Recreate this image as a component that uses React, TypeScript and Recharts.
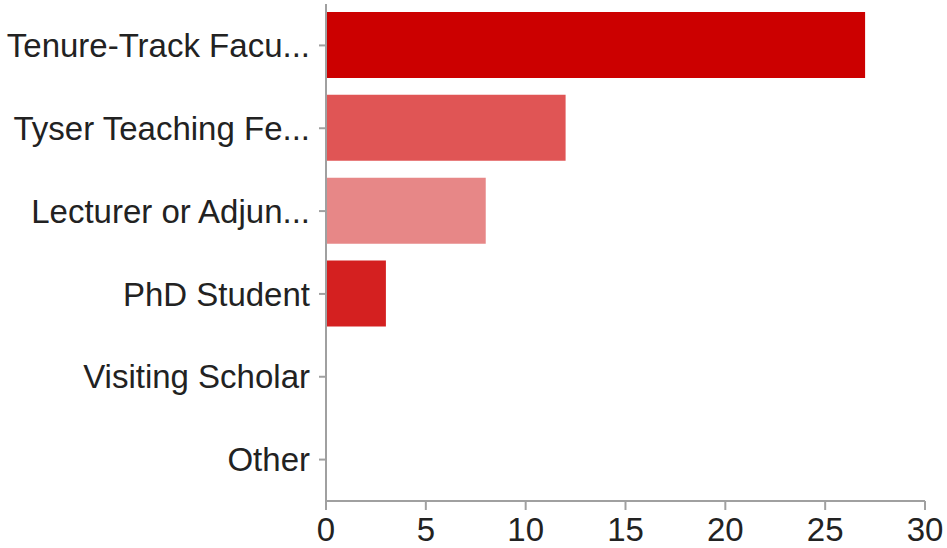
import { BarChart, Bar, XAxis, YAxis, Cell } from "recharts";

const categories = [
  "Tenure-Track Facu...",
  "Tyser Teaching Fe...",
  "Lecturer or Adjun...",
  "PhD Student",
  "Visiting Scholar",
  "Other",
];
const counts = [27, 12, 8, 3, 0, 0];
const barColors = ["#cc0000", "#e05555", "#e78787", "#d42020", "#cc0000", "#cc0000"];
const xTicks = [0, 5, 10, 15, 20, 25, 30];

const data = categories.map((name, i) => ({ name, value: counts[i] }));

const axisColor = "#a0a0a0";
const tickStyle = { fill: "#222", fontSize: 33, fontFamily: "Liberation Sans, Arial, sans-serif" };

export default function App() {
  return (
    <div style={{ position: "absolute", left: 0, top: 0, width: 947, height: 548, background: "#fff" }}>
      <BarChart
        width={947}
        height={548}
        data={data}
        layout="vertical"
        margin={{ top: 4, right: 22, bottom: 0, left: 0 }}
      >
        <XAxis
          type="number"
          domain={[0, 30]}
          ticks={xTicks}
          interval={0}
          height={47}
          tick={tickStyle}
          tickSize={9}
          tickMargin={8}
          axisLine={{ stroke: axisColor, strokeWidth: 2 }}
          tickLine={{ stroke: axisColor, strokeWidth: 2 }}
        />
        <YAxis
          type="category"
          dataKey="name"
          width={326}
          interval={0}
          tick={tickStyle}
          tickSize={7}
          tickMargin={9}
          axisLine={{ stroke: axisColor, strokeWidth: 2 }}
          tickLine={{ stroke: axisColor, strokeWidth: 2 }}
        />
        <Bar dataKey="value" barSize={66} isAnimationActive={false}>
          {data.map((_, i) => (
            <Cell key={i} fill={barColors[i]} />
          ))}
        </Bar>
      </BarChart>
    </div>
  );
}
